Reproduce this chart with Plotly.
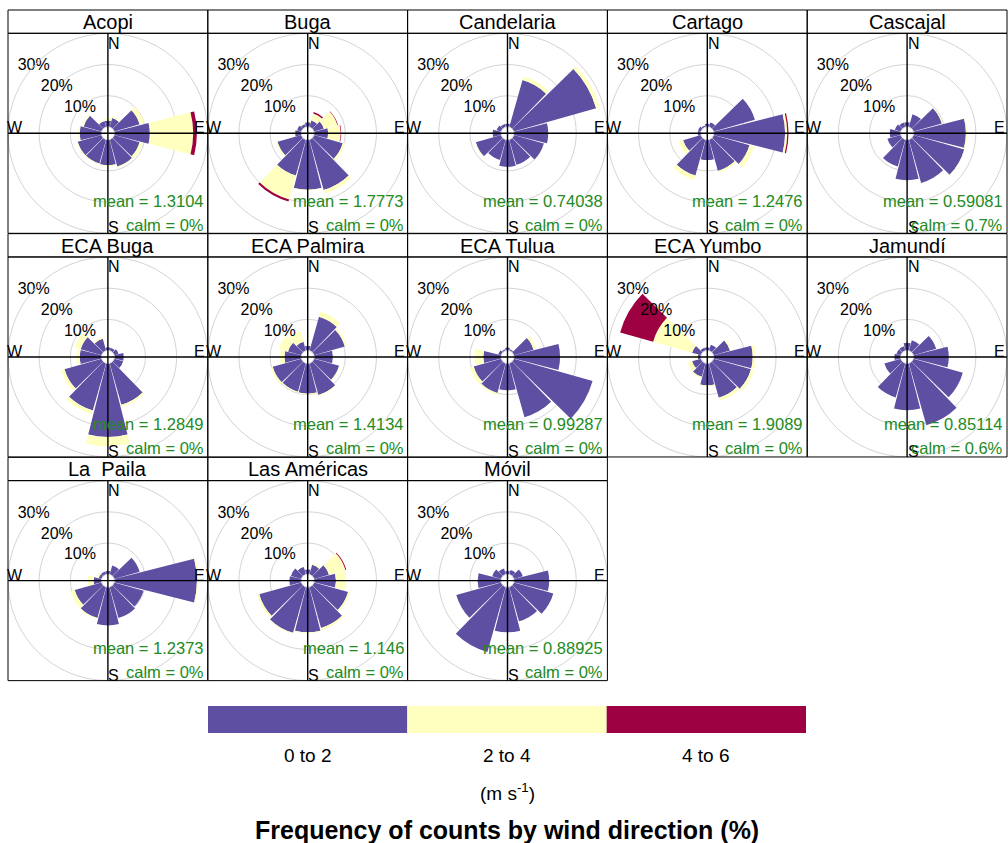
import plotly.graph_objects as go

# ---------------- data ----------------
directions = [0, 30, 60, 90, 120, 150, 180, 210, 240, 270, 300, 330]
speed_bins = ["0 to 2", "2 to 4", "4 to 6"]
bin_colors = ["#5E4FA2", "#FFFFBF", "#9E0142"]

stations = ["Acopi", "Buga", "Candelaria", "Cartago", "Cascajal",
            "ECA Buga", "ECA Palmira", "ECA Tulua", "ECA Yumbo", "Jamundí",
            "La\u00a0 Paila", "Las Américas", "Móvil"]
mean_labels = ["1.3104", "1.7773", "0.74038", "1.2476", "0.59081",
               "1.2849", "1.4134", "0.99287", "1.9089", "0.85114",
               "1.2373", "1.146", "0.88925"]
calm_labels = ["0%", "0%", "0%", "0%", "0.7%",
               "0%", "0%", "0%", "0%", "0.6%",
               "0%", "0%", "0%"]

# frequency (%) per direction, for each speed bin [0-2, 2-4, 4-6]
acopi = [[2, 3, 8.5, 11.4, 8.5, 9, 8.2, 8, 8, 7, 6, 2],
         [0.8, 0.5, 1.5, 13.9, 1, 0.3, 0.3, 0.2, 0.3, 0.5, 0.5, 0.3],
         [0, 0, 0, 1.2, 0, 0, 0, 0, 0, 0, 0, 0]]
buga = [[1.5, 2.2, 3.3, 4.5, 9.6, 16.8, 16, 12, 8, 2, 1.5, 1],
        [0.2, 2.3, 4.5, 4, 0.7, 1.2, 0.3, 8, 0.5, 0.2, 0.2, 0.2],
        [0, 0.5, 0.2, 0.2, 0, 0, 0, 0.7, 0, 0, 0, 0]]
candelaria = [[1, 15.7, 27.5, 11, 10, 8.4, 8.7, 6.8, 8.5, 2.7, 1.5, 1],
              [0, 1.2, 1.2, 0, 0, 0, 0, 0, 0.2, 0, 0, 0],
              [0, 0, 0, 0, 0, 0, 0, 0, 0, 0, 0, 0]]
cartago = [[1, 1.5, 13.8, 22.9, 12, 10.5, 6.5, 12, 6, 1, 1, 0.5],
           [0, 0, 0, 0.7, 1.5, 0.5, 0, 1.5, 1.5, 0.2, 0, 0],
           [0, 0, 0, 0.4, 0, 0, 0, 0, 0, 0, 0, 0]]
cascajal = [[1.5, 4.3, 9.5, 16.8, 17, 14.5, 13, 9, 4.5, 3.5, 2, 1.5],
            [0, 0, 0.3, 0.4, 0.2, 0, 0, 0, 0, 0, 0, 0],
            [0, 0, 0, 0, 0, 0, 0, 0, 0, 0, 0, 0]]
eca_buga = [[1, 1, 1.5, 3, 3, 13.9, 23.6, 15.8, 12.4, 7, 7, 4],
            [0, 0, 0, 0, 0, 0.6, 3, 1.2, 1.1, 1, 2, 0.5],
            [0, 0, 0, 0, 0, 0, 0, 0, 0, 0, 0, 0]]
eca_palmira = [[1.5, 11.3, 10.3, 6, 8.4, 10.6, 9.7, 9.5, 9.6, 5.4, 4.5, 3],
               [0, 1.7, 0.7, 0, 0.3, 0.3, 0.3, 0.3, 0.7, 1.5, 3, 3.5],
               [0, 0, 0, 0, 0, 0, 0, 0, 0, 0, 0, 0]]
eca_tulua = [[1, 0.5, 6.6, 14.8, 26.3, 18, 8.6, 9.9, 9.2, 5.7, 1, 0.5],
             [0.3, 0, 0.9, 0, 0, 0, 0, 0.6, 1.3, 2.8, 0, 0],
             [0, 0, 0, 0, 0, 0, 0, 0, 0, 0, 0, 0]]
eca_yumbo = [[1, 2, 5.5, 12.5, 12.5, 11.5, 7, 4.5, 3, 1, 3, 1],
             [0, 0, 0.5, 1, 1, 1, 0.3, 0.5, 1.5, 1, 13, 0],
             [0, 0, 0, 0, 0, 0, 0, 0, 0, 0, 11, 0]]
jamundi = [[2.5, 3.5, 7.6, 11.3, 16.5, 20.7, 15, 11.4, 5.5, 2, 1.5, 1.5],
           [0, 0, 0, 0, 0, 0, 0, 0, 0, 0, 0, 0],
           [0, 0, 0, 0, 0, 0, 0, 0, 0, 0, 0, 0]]
la_paila = [[1, 3, 8.5, 26.5, 9.8, 10.4, 12.3, 10.4, 9, 2.5, 1, 1],
            [0, 0, 0, 0.5, 0, 0, 0, 0.3, 1.5, 2, 0.5, 0],
            [0, 0, 0, 0, 0, 0, 0, 0, 0, 0, 0, 0]]
las_americas = [[1.5, 3.2, 5, 7, 11.4, 13.7, 14.5, 15.3, 14.1, 3.8, 3.5, 2.5],
                [0, 0.5, 5.5, 3.2, 0.6, 0.6, 0.3, 0.3, 0.7, 0, 0, 0],
                [0, 0, 0.3, 0, 0, 0, 0, 0, 0, 0, 0, 0]]
movil = [[1, 1.5, 3, 11.3, 13.2, 11.5, 14.5, 21.7, 15, 7.5, 3, 2],
         [0, 0, 0, 0, 0, 0, 0, 0, 0, 0, 0, 0],
         [0, 0, 0, 0, 0, 0, 0, 0, 0, 0, 0, 0]]

rose_data = [acopi, buga, candelaria, cartago, cascajal,
             eca_buga, eca_palmira, eca_tulua, eca_yumbo, jamundi,
             la_paila, las_americas, movil]

ring_values = [10, 20, 30]
ring_labels = ["10%", "20%", "30%"]

# ---------------- layout geometry (pixels) ----------------
W, H = 1008, 843
FONT = "Liberation Sans, Arial, sans-serif"
GREEN = "#228B22"
col_w = 199.8
row_pitch = 223.67
header_h = 23.3
panel_h = 200.0
left0, top0 = 8.0, 10.0


def px(x):
    return x / W


def py(y):
    return 1 - y / H


fig = go.Figure()
shapes = []
annotations = []
layout_polars = {}


def ann(text, x, y, xa, ya, size=16, color="black"):
    annotations.append(dict(text=text, x=px(x), y=py(y), xref="paper",
                            yref="paper", xanchor=xa, yanchor=ya,
                            showarrow=False, borderpad=0, borderwidth=0,
                            font=dict(size=size, color=color, family=FONT)))


for i, name in enumerate(stations):
    col, row = i % 5, i // 5
    left = left0 + col * col_w
    right = left + col_w
    htop = top0 + row * row_pitch
    ptop = htop + header_h
    pbot = ptop + panel_h
    cx = (left + right) / 2
    cy = (ptop + pbot) / 2
    key = "polar" if i == 0 else f"polar{i + 1}"
    sub = key

    for b in range(3):
        fig.add_trace(go.Barpolar(
            r=rose_data[i][b], theta=directions, width=28.5,
            marker=dict(color=bin_colors[b], line=dict(width=0)),
            name=speed_bins[b], subplot=sub, showlegend=False,
            hoverinfo="skip"))
    fig.add_trace(go.Scatterpolar(
        r=ring_values, theta=[312] * 3, mode="text", text=ring_labels,
        textfont=dict(size=16, color="black", family=FONT),
        subplot=sub, showlegend=False, cliponaxis=False, hoverinfo="skip"))

    layout_polars[key] = dict(
        domain=dict(x=[px(left), px(right)], y=[py(pbot), py(ptop)]),
        hole=0.065,
        bgcolor="rgba(0,0,0,0)",
        barmode="stack",
        angularaxis=dict(rotation=90, direction="clockwise", showgrid=False,
                         showticklabels=False, ticks="", showline=True,
                         linecolor="#d4d4d4", linewidth=1),
        radialaxis=dict(range=[0, 30], tickvals=[10, 20], showticklabels=False,
                        ticks="", showline=False, gridcolor="#d4d4d4",
                        gridwidth=1),
    )

    line = dict(color="black", width=1)
    shapes.append(dict(type="rect", xref="paper", yref="paper",
                       x0=px(left), x1=px(right), y0=py(ptop), y1=py(htop),
                       line=line, layer="above"))
    shapes.append(dict(type="rect", xref="paper", yref="paper",
                       x0=px(left), x1=px(right), y0=py(pbot), y1=py(ptop),
                       line=line, layer="above"))
    shapes.append(dict(type="line", xref="paper", yref="paper",
                       x0=px(left), x1=px(right), y0=py(cy), y1=py(cy),
                       line=dict(color="black", width=1.4), layer="above"))
    shapes.append(dict(type="line", xref="paper", yref="paper",
                       x0=px(cx), x1=px(cx), y0=py(pbot), y1=py(ptop),
                       line=dict(color="black", width=1.4), layer="above"))

    ann(name, cx, (htop + ptop) / 2 + 0.5, "center", "middle", size=20)
    ann("N", cx + 0.5, ptop + 1.5, "left", "top")
    ann("E", right - 2.5, cy + 3, "right", "bottom")
    ann("W", left - 1.5, cy + 3, "left", "bottom")
    ann("S", cx + 0.5, pbot + 3, "left", "bottom")
    ann("mean = " + mean_labels[i], right - 4, cy + 67.5, "right", "middle",
        size=16.5, color=GREEN)
    ann("calm = " + calm_labels[i], right - 4, cy + 91.5, "right", "middle",
        size=16.5, color=GREEN)

# ---------------- colour key ----------------
key_left, key_right = 208.0, 806.0
key_top, key_bot = 706.0, 733.0
seg = (key_right - key_left) / len(speed_bins)
for b, lab in enumerate(speed_bins):
    x0 = key_left + b * seg
    shapes.append(dict(type="rect", xref="paper", yref="paper",
                       x0=px(x0), x1=px(x0 + seg), y0=py(key_bot), y1=py(key_top),
                       line=dict(width=0), fillcolor=bin_colors[b], layer="above"))
    ann(lab, x0 + seg / 2, 755, "center", "middle", size=19)
ann("(m s<sup>-1</sup>)", 507, 792, "center", "middle", size=19)
ann("<b>Frequency of counts by wind direction (%)</b>", 507, 830,
    "center", "middle", size=25)

fig.update_layout(
    width=W, height=H, margin=dict(l=0, r=0, t=0, b=0, pad=0),
    paper_bgcolor="white", plot_bgcolor="white", showlegend=False,
    font=dict(family=FONT, color="black"),
    shapes=shapes, annotations=annotations, **layout_polars)

fig.write_html("out.html", config={"displayModeBar": False},
               post_script="document.body.style.margin='0';document.body.style.overflow='hidden';")
